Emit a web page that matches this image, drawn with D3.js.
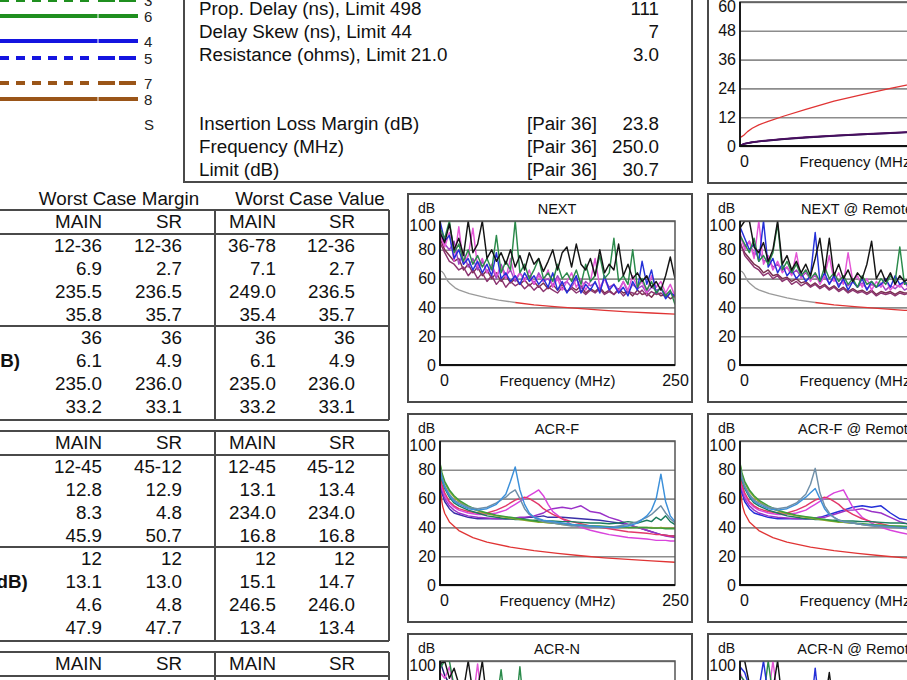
<!DOCTYPE html>
<html><head><meta charset="utf-8">
<script src="https://cdn.jsdelivr.net/npm/d3@7"></script>
<style>
html,body{margin:0;padding:0;background:#fff;overflow:hidden}
svg{display:block}
</style></head><body>
<svg id="c" width="907" height="680"></svg>
<script>
// ---------------- DATA ----------------
const legendLabels = ["3","6","4","5","7","8","S"];
const legendDashed = [true,false,false,true,true,false,false];

const midLabels = ["Prop. Delay (ns), Limit 498","Delay Skew (ns), Limit 44","Resistance (ohms), Limit 21.0"];
const midValues = ["111","7","3.0"];
const ilLabels = ["Insertion Loss Margin (dB)","Frequency (MHz)","Limit (dB)"];
const ilPairs = ["[Pair 36]","[Pair 36]","[Pair 36]"];
const ilValues = ["23.8","250.0","30.7"];

const groupHeads = ["Worst Case Margin","Worst Case Value"];
const colHeads = ["MAIN","SR","MAIN","SR"];
const t1Labels = ["Worst Pair","NEXT (dB)","Freq (MHz)","Limit (dB)","Worst Pair","PS NEXT (dB)","Freq (MHz)","Limit (dB)"];
const t1Rows = [["12-36","12-36","36-78","12-36"],["6.9","2.7","7.1","2.7"],["235.5","236.5","249.0","236.5"],["35.8","35.7","35.4","35.7"],
                ["36","36","36","36"],["6.1","4.9","6.1","4.9"],["235.0","236.0","235.0","236.0"],["33.2","33.1","33.2","33.1"]];
const t2Labels = ["Worst Pair","ACR-F (dB)","Freq (MHz)","Limit (dB)","Worst Pair","PS ACR-F (dB)","Freq (MHz)","Limit (dB)"];
const t2Rows = [["12-45","45-12","12-45","45-12"],["12.8","12.9","13.1","13.4"],["8.3","4.8","234.0","234.0"],["45.9","50.7","16.8","16.8"],
                ["12","12","12","12"],["13.1","13.0","15.1","14.7"],["4.6","4.8","246.5","246.0"],["47.9","47.7","13.4","13.4"]];
const t3Labels = ["Worst Pair"];
const t3Rows = [["45-78","45-78","12-36","12-36"]];

// Insertion loss
const ilLimFreq = [1,4,8,13,20,30,47,70,100,130,160,177,200,225,250];
const ilLimVal  = [3.7,4.5,6,7.4,8.8,10.3,12.5,15.3,18.7,21.4,24,25.4,27.2,29,30.7];
const ilMFreq = [0,4,8,13,20,30,47,70,100,130,160,177,200,225,250];
const ilPairA = [0,0.9,1.25,1.6,2.0,2.4,3.0,3.7,4.4,5.0,5.5,5.85,6.2,6.55,6.9];
const ilPairB = [0,0.85,1.2,1.55,1.9,2.3,2.9,3.55,4.25,4.85,5.35,5.7,6.05,6.4,6.75];
const ilPairC = [0,0.8,1.15,1.5,1.85,2.25,2.85,3.5,4.2,4.8,5.3,5.6,5.95,6.3,6.6];

// NEXT
const nextFreq = [0,5,10,15,20,25,30,35,40,45,50,55,60,65,70,75,80,85,90,95,100,105,110,115,120,125,130,135,140,145,150,155,160,165,170,175,180,185,190,195,200,205,210,215,220,225,230,235,240,245,250];
const nextBlack = [92,85,98,80,88,76,100,78,84,100,74,80,72,78,70,80,68,76,66,78,70,74,65,72,80,66,78,82,68,84,70,66,74,62,80,64,70,66,84,62,70,60,64,58,62,54,58,52,62,75,60];
const nextGreen = [95,88,100,78,84,72,80,70,76,68,74,66,90,64,72,66,100,64,70,60,66,74,60,64,58,70,60,64,58,66,56,70,58,62,76,60,64,88,58,62,56,80,54,60,52,58,50,54,48,52,42];
const nextBlue  = [100,86,90,74,80,70,74,66,72,64,70,62,78,60,64,58,62,56,64,58,62,56,60,54,64,52,58,50,56,62,50,56,52,58,50,62,52,56,50,54,48,58,52,72,56,66,50,54,46,50,48];
const nextPink  = [90,82,92,72,96,70,76,95,68,74,64,70,62,68,60,74,60,64,58,66,56,62,58,66,54,60,52,58,64,54,60,52,58,74,54,60,52,56,50,58,52,62,54,58,50,62,54,58,50,56,48];
const nextPlum  = [85,78,72,70,66,68,62,66,60,64,58,62,56,60,54,58,55,57,53,56,52,55,51,54,52,50,54,51,53,50,52,49,52,50,53,49,51,49,52,48,51,50,49,52,48,51,49,50,47,50,47];
const nextBrown = [88,80,76,72,74,66,70,64,68,62,66,60,64,58,62,57,60,56,59,55,58,54,57,53,56,52,56,51,54,52,55,50,53,51,54,50,52,49,53,50,51,48,52,49,50,47,51,48,49,46,48];
const nextViolet = [94,84,80,86,70,78,68,74,66,72,64,68,60,70,62,66,58,64,60,62,56,64,58,60,55,62,56,58,54,60,53,58,55,57,52,60,54,56,52,58,50,56,53,55,50,54,52,53,49,51,48];
const nextLimFreq = [0,2,4,8,10,16,20,31.25,50,62.5,80,100,125,150,175,200,225,250];
const nextLimVal  = [65,65,63.5,58.5,57,53.6,52.2,49.5,46.6,45.1,43.4,41.8,40.4,39.2,38.0,36.9,36.1,35.3];

// NEXT @ Remote
const remFreq = [0,5,10,15,20,25,30,35,40,45,50,55,60,65,70,75,80,85,90,95,100,105,110,115,120,125,130,135,140,145,150,155,160,165,170,175,180];
const remBlack = [95,100,100,82,78,85,72,80,100,70,76,66,72,64,70,62,74,88,64,88,62,70,60,66,58,64,60,70,86,60,66,58,64,56,62,58,60];
const remGreen = [90,84,78,88,72,76,70,78,98,66,72,64,70,62,66,60,64,58,68,60,64,58,62,56,60,54,62,56,58,54,60,56,62,58,82,56,58];
const remBlue  = [96,88,80,84,72,100,68,74,64,70,62,66,60,64,58,62,92,58,64,56,62,54,60,52,58,54,60,52,58,54,56,60,54,62,56,58,54];
const remPink  = [92,80,86,74,100,70,76,66,72,64,68,62,78,60,66,58,64,56,62,76,58,64,56,78,58,62,54,60,52,58,54,60,52,56,54,58,52];
const remPlum  = [86,76,72,68,66,62,64,60,62,58,60,56,58,55,57,54,56,53,55,52,54,51,53,50,52,50,51,49,51,48,50,49,50,48,50,49,50];
const remBrown = [84,78,74,70,68,64,66,62,63,60,61,58,60,57,58,55,57,54,56,53,55,52,54,51,53,51,52,50,52,49,51,50,51,49,51,50,50];
const remViolet = [90,82,86,76,80,72,74,68,70,66,68,63,66,61,64,60,62,58,61,57,60,56,58,55,58,54,57,53,56,54,57,52,55,53,56,52,54];

// ACR-F
const acrFreq = [0,2,5,10,15,20,30,40,50,60,70,75,80,85,90,95,100,105,110,115,120,130,140,150,160,170,180,190,200,210,220,225,230,235,240,245,250];
const acrLightBlue = [80,74,68,62,58,56,53,52,53,56,63,72,82,66,56,50,47,46,45,44.5,44,43,42,41.5,41,40.5,40,40,41,43,48,52,60,77,58,48,44];
const acrGrayBlue  = [82,75,69,63,59,57,54,53,54,57,61,64,66,60,53,49,47,45,44,43.5,43,42,41,41,40.5,40,40,41,42,44,47,49,52,55,50,46,43];
const acrRed       = [76,70,64,58,55,53,51,50,50,52,55,57,59,60,61,60,58,56,53,51,49,46,44,42.5,41,40,39,38,37,36.5,36,35.5,35,35,34.5,34,34];
const acrMagenta   = [74,68,62,57,54,52,50,49,49,50,52,54,56,58,60,62,64,66,62,56,51,46,42,40,38,36.5,35,34,33,32.5,32,31.5,31,31,31,30.5,30.5];
const acrPurple    = [72,66,60,55,52,50,48,47,46.5,46,46,46,46.5,47,47,47.5,48,49,50,52,53,54,53,55,51,50,47,45,42,40,38,37,36,35,34,33.5,33];
const acrIndigo    = [70,64,58,53,50,49,47,46,46,46,46,46,46,46,46.5,47,47,47.5,48,47,47,47,46.5,46,45.5,45,44,43,42,40,38,37,36,35,34.5,34,34];
const acrGreen     = [85,78,72,66,62,59,55,52,50,48.5,47.5,47,46.5,46,45.5,45,44.5,44,44,43.5,43,42.5,42,41.5,41,41,40.5,40.5,40,40,40,39.5,39.5,39.5,39,39,39];
const acrOlive     = [84,77,71,65,61,58,54,51.5,49.5,48,47,46.5,46,45.5,45,44.5,44,43.5,43.5,43,43,42,41.5,41.5,41,40.5,40.5,40,40,40,40,40,39.5,40,39.5,39.5,39.5];
const acrTeal      = [80,73,67,61,57,55,52,50,48,47,46,46,45.5,45.5,45.5,45,45,45,44.5,44.5,44.5,44,44,43.5,43,43,42.5,43,44,43,45,44,47,45,48,44,42];
const acrLimFreq = [1,2,3,5,10,20,35,50,75,100,125,150,175,200,225,250];
const acrLimVal  = [63.8,57.8,54.3,49.8,43.8,37.8,32.9,29.8,26.3,23.8,21.9,20.3,18.9,17.8,16.8,15.8];

// ACR-F @ Remote
const acrRemFreq = [0,2,5,10,15,20,30,40,50,60,70,75,80,85,90,95,100,105,110,115,120,130,140,150,160,170,180];
const remGrayBlue  = [82,75,69,63,59,57,54,53,54,57,63,70,81,64,55,50,47,45,44,43.5,43,42,41,40.5,40,39.5,39];
const remLightBlue = [80,74,68,62,58,56,53,52,53,56,61,64,67,60,53,49,47,45,44,43.5,43,42,41.5,41,40.5,40,40];
const remRed       = [76,70,64,58,55,53,51,50,50,52,55,57,59,60,61,60,58,56,53,51,49,46,44,42.5,41,40,39];
const remMagenta   = [74,68,62,57,54,52,50,49,49,50,52,54,56,58,60,62,64,65,66,60,54,47,43,40,38,36.5,35];
const remIndigo    = [70,64,58,53,50,49,47,46,46,46,46,46,46.5,47,48,49,50,51,52,53,54,55,54,55,50,46,45];
const remPurple    = [72,66,60,55,52,50,48,47,46.5,46,46,46,46.5,47,47,48,49,50,51,52,52,53,51,50,47,44,42];
const remTeal      = [80,73,67,61,57,55,52,50,48,47,46,46,45.5,45.5,45.5,45,45,45,44.5,44.5,44.5,44,44,43.5,43,43,42.5];
const remGreenF    = [85,78,72,66,62,59,55,52,50,48.5,47.5,47,46.5,46,45.5,45,44.5,44,44,43.5,43,42.5,42,41.5,41,41,40.5];
const remOlive     = [84,77,71,65,61,58,54,51.5,49.5,48,47,46.5,46,45.5,45,44.5,44,43.5,43.5,43,43,42,41.5,41.5,41,40.5,40.5];

// ACR-N (only top visible)
const acrnFreq = [0,5,10,15,20,25,30,35,40,45,50,55,60,65,70,75,80,85,90,95,100];
const acrnBlack = [98,100,88,95,84,80,100,78,80,100,72,76,70,74,68,72,66,74,64,72,66];
const acrnGreen = [95,100,100,82,86,78,80,74,76,70,72,68,70,94,66,68,64,96,62,66,60];
const acrnPink  = [92,88,96,80,84,76,78,72,98,70,68,70,64,68,62,66,60,64,58,62,58];
const acrnNavy  = [100,90,84,78,80,74,76,70,72,68,70,66,68,64,66,62,64,60,62,58,60];
const acrnRemBlack = [100,100,84,80,82,86,78,80,100,72,74,70,72,68,70,66,68,64,70,92,66];
const acrnRemBlue  = [96,92,82,78,80,100,76,78,72,70,72,68,70,66,68,64,95,64,66,62,64];
const acrnRemGreen = [90,86,80,76,78,74,100,76,80,70,72,68,70,66,68,64,66,62,64,60,62];
const acrnRemPink  = [92,84,78,74,76,72,74,100,76,68,70,66,68,64,66,62,64,60,62,58,60];

// ---------------- STYLES ----------------
const FONT = '"Liberation Sans", Arial, Helvetica, sans-serif';
const legendColors = ["#1f8f1f","#1f8f1f","#1414e0","#1414e0","#9a5518","#9a5518",null];
const C = {black:"#141414", green:"#2a8a4a", blue:"#2430d8", pink:"#e455d6", plum:"#8c3470",
  brown:"#7a3050", violet:"#a044c4",
  lightBlue:"#3c90da", grayBlue:"#6f8fa8", red:"#e2386a", magenta:"#d944dc", purple:"#9a32c8",
  indigo:"#3a30a8", green2:"#3c9c3c", olive:"#9aac2a", teal:"#1c7c5e", limit:"#e03434", limGray:"#9a9a9a",
  il1:"#4b1060", il2:"#6a1f80", il3:"#2a1050", navy:"#1a1a70"};

const svg = d3.select("#c").attr("font-family", FONT);
const BODY = 18.8;

// ---------------- LEGEND ----------------
const legendY = [0,16,41,58,83,99,124];
const lineGen = d3.line();
legendLabels.forEach((lab,i) => {
  const yy = legendY[i];
  if (legendColors[i]) {
    if (legendDashed[i]) {
      svg.append("path").attr("d", lineGen([[0,yy],[96,yy]])).attr("stroke",legendColors[i]).attr("stroke-width",4).attr("stroke-dasharray","9,7");
      svg.append("path").attr("d", lineGen([[98,yy],[138,yy]])).attr("stroke",legendColors[i]).attr("stroke-width",4).attr("stroke-dasharray","17,4");
    } else {
      svg.append("path").attr("d", lineGen([[0,yy],[97.5,yy]])).attr("stroke",legendColors[i]).attr("stroke-width",4);
      svg.append("path").attr("d", lineGen([[98.5,yy],[138,yy]])).attr("stroke",legendColors[i]).attr("stroke-width",4);
    }
  }
  svg.append("text").attr("x",144).attr("y",yy+5.5).attr("font-size",15).attr("fill","#222").text(lab);
});

// ---------------- MIDDLE BOX ----------------
svg.append("rect").attr("x",184).attr("y",-10).attr("width",508).attr("height",192)
  .attr("fill","none").attr("stroke","#4a4a4a").attr("stroke-width",2);
const midY = [15,38,61], ilY = [130,153,176];
midLabels.forEach((t,i)=>{
  svg.append("text").attr("x",199).attr("y",midY[i]).attr("font-size",BODY).attr("fill","#111").text(t);
  svg.append("text").attr("x",659).attr("y",midY[i]).attr("font-size",BODY).attr("fill","#111").attr("text-anchor","end").text(midValues[i]);
});
ilLabels.forEach((t,i)=>{
  svg.append("text").attr("x",199).attr("y",ilY[i]).attr("font-size",BODY).attr("fill","#111").text(t);
  svg.append("text").attr("x",527).attr("y",ilY[i]).attr("font-size",BODY).attr("fill","#111").text(ilPairs[i]);
  svg.append("text").attr("x",659).attr("y",ilY[i]).attr("font-size",BODY).attr("fill","#111").attr("text-anchor","end").text(ilValues[i]);
});

// ---------------- TABLES ----------------
const colX = [102,182,276,355];
function hline(x1,x2,y){ svg.append("path").attr("d",lineGen([[x1,y],[x2,y]])).attr("stroke","#4a4a4a").attr("stroke-width",2); }
function vline(x,y1,y2){ svg.append("path").attr("d",lineGen([[x,y1],[x,y2]])).attr("stroke","#4a4a4a").attr("stroke-width",2); }
function table(top, rows, labels, heads, full){
  if (heads) {
    svg.append("text").attr("x",119).attr("y",top-5).attr("font-size",BODY).attr("text-anchor","middle").attr("fill","#111").text(heads[0]);
    svg.append("text").attr("x",310).attr("y",top-5).attr("font-size",BODY).attr("text-anchor","middle").attr("fill","#111").text(heads[1]);
  }
  const bottom = full ? top+210 : 700;
  hline(0,389,top); hline(0,389,top+24);
  if (full) { hline(0,389,top+116); hline(0,389,bottom); }
  vline(215,top,bottom); vline(389,top,bottom);
  colHeads.forEach((h,j)=>svg.append("text").attr("x",colX[j]).attr("y",top+18).attr("font-size",BODY).attr("text-anchor","end").attr("fill","#111").text(h));
  rows.forEach((r,i)=>{
    const by = top+42+23*i;
    svg.append("text").attr("x",-103).attr("y",by).attr("font-size",BODY).attr("font-weight","bold").attr("fill","#111").text(labels[i]);
    r.forEach((v,j)=>svg.append("text").attr("x",colX[j]).attr("y",by).attr("font-size",BODY).attr("text-anchor","end").attr("fill","#111").text(v));
  });
}
table(210, t1Rows, t1Labels, groupHeads, true);
table(431, t2Rows, t2Labels, null, true);
table(652, t3Rows, t3Labels, null, false);

// ---------------- CHARTS ----------------
const PW = 235, PH = 144;
let clipN = 0;
function chart(o){
  const g = svg.append("g");
  const px = o.bx + 32, py = o.by + 27;
  const x = d3.scaleLinear().domain([0,250]).range([px, px+PW]);
  const y = d3.scaleLinear().domain([0,o.ymax]).range([py+PH, py]);
  g.append("rect").attr("x",o.bx).attr("y",o.by).attr("width",284).attr("height",208)
    .attr("fill","none").attr("stroke","#4a4a4a").attr("stroke-width",2);
  g.append("text").attr("x",o.bx+10).attr("y",o.by+19).attr("font-size",14).attr("fill","#111").text("dB");
  g.append("text").attr("x",o.bx+149).attr("y",o.by+20).attr("font-size",14.5).attr("text-anchor","middle").attr("fill","#111").text(o.title);
  const ya = g.append("g").attr("transform",`translate(${px},0)`)
    .call(d3.axisLeft(y).tickValues(o.ticks).tickSize(-PW).tickPadding(4).tickFormat(d3.format("d")));
  ya.select(".domain").remove();
  ya.selectAll(".tick line").attr("stroke","#8c8c8c").attr("stroke-width",1.6);
  ya.selectAll(".tick text").attr("font-size",16).attr("fill","#111").attr("font-family",FONT)
    .attr("dy", d => d === o.ymax ? "0.62em" : "0.32em");
  const id = "clip"+(clipN++);
  g.append("clipPath").attr("id",id).append("rect").attr("x",px).attr("y",py).attr("width",PW).attr("height",PH);
  const lg = g.append("g").attr("clip-path",`url(#${id})`);
  const line = d3.line().x(d=>x(d[0])).y(d=>y(d[1]));
  o.lines.forEach(L=>{
    let pts = d3.zip(L.f, L.v);
    if (L.upTo !== undefined) pts = pts.filter(p=>p[0] <= L.upTo);
    if (L.from !== undefined) pts = pts.filter(p=>p[0] >= L.from);
    lg.append("path").datum(pts).attr("d",line).attr("fill","none").attr("stroke",L.c)
      .attr("stroke-width",L.w||1.45).attr("stroke-linejoin","round");
  });
  g.append("rect").attr("x",px).attr("y",py).attr("width",PW).attr("height",PH)
    .attr("fill","none").attr("stroke","#555").attr("stroke-width",1.5);
  g.append("path").attr("d",`M${px},${py}V${py+PH}H${px+PW}`).attr("stroke","#111").attr("stroke-width",1.8).attr("fill","none");
  const xa = g.append("g").attr("transform",`translate(0,${py+PH})`)
    .call(d3.axisBottom(x).tickValues([0,250]).tickSize(0).tickPadding(10).tickFormat(d3.format("d")));
  xa.select(".domain").remove();
  xa.selectAll(".tick text").attr("font-size",16).attr("fill","#111").attr("font-family",FONT)
    .attr("dx",(d)=> d===0 ? 4 : 0);
  g.append("text").attr("x",px+PW/2).attr("y",py+PH+21).attr("font-size",15).attr("text-anchor","middle").attr("fill","#111").text("Frequency (MHz)");
}

const t20 = [0,20,40,60,80,100];
// Insertion loss (top right)
chart({bx:708, by:-25, title:"Insertion Loss", ymax:60, ticks:[0,12,24,36,48,60], lines:[
  {f:ilLimFreq, v:ilLimVal, c:C.limit, w:1.3},
  {f:ilMFreq, v:ilPairB, c:C.il2, w:1.6},
  {f:ilMFreq, v:ilPairC, c:C.il3, w:1.6},
  {f:ilMFreq, v:ilPairA, c:C.il1, w:1.6}
]});

// NEXT
chart({bx:408, by:194, title:"NEXT", ymax:100, ticks:t20, lines:[
  {f:nextLimFreq, v:nextLimVal, c:C.limGray, upTo:80, w:1.3},
  {f:nextLimFreq, v:nextLimVal, c:C.limit, from:80, w:1.3},
  {f:nextFreq, v:nextBrown, c:C.brown},
  {f:nextFreq, v:nextPlum, c:C.plum},
  {f:nextFreq, v:nextViolet, c:C.violet},
  {f:nextFreq, v:nextPink, c:C.pink},
  {f:nextFreq, v:nextBlue, c:C.blue},
  {f:nextFreq, v:nextGreen, c:C.green},
  {f:nextFreq, v:nextBlack, c:C.black}
]});
chart({bx:708, by:194, title:"NEXT @ Remote", ymax:100, ticks:t20, lines:[
  {f:nextLimFreq, v:nextLimVal, c:C.limGray, upTo:80, w:1.3},
  {f:nextLimFreq, v:nextLimVal, c:C.limit, from:80, w:1.3},
  {f:remFreq, v:remBrown, c:C.brown},
  {f:remFreq, v:remPlum, c:C.plum},
  {f:remFreq, v:remViolet, c:C.violet},
  {f:remFreq, v:remPink, c:C.pink},
  {f:remFreq, v:remBlue, c:C.blue},
  {f:remFreq, v:remGreen, c:C.green},
  {f:remFreq, v:remBlack, c:C.black}
]});

// ACR-F
chart({bx:408, by:414, title:"ACR-F", ymax:100, ticks:t20, lines:[
  {f:acrLimFreq, v:acrLimVal, c:C.limit, w:1.3},
  {f:acrFreq, v:acrIndigo, c:C.indigo},
  {f:acrFreq, v:acrPurple, c:C.purple},
  {f:acrFreq, v:acrMagenta, c:C.magenta},
  {f:acrFreq, v:acrRed, c:C.red},
  {f:acrFreq, v:acrTeal, c:C.teal},
  {f:acrFreq, v:acrOlive, c:C.olive},
  {f:acrFreq, v:acrGreen, c:C.green2},
  {f:acrFreq, v:acrGrayBlue, c:C.grayBlue},
  {f:acrFreq, v:acrLightBlue, c:C.lightBlue}
]});
chart({bx:708, by:414, title:"ACR-F @ Remote", ymax:100, ticks:t20, lines:[
  {f:acrLimFreq, v:acrLimVal, c:C.limit, w:1.3},
  {f:acrRemFreq, v:remIndigo, c:C.blue},
  {f:acrRemFreq, v:remPurple, c:C.purple},
  {f:acrRemFreq, v:remMagenta, c:C.magenta},
  {f:acrRemFreq, v:remRed, c:C.red},
  {f:acrRemFreq, v:remTeal, c:C.teal},
  {f:acrRemFreq, v:remOlive, c:C.olive},
  {f:acrRemFreq, v:remGreenF, c:C.green2},
  {f:acrRemFreq, v:remLightBlue, c:C.lightBlue},
  {f:acrRemFreq, v:remGrayBlue, c:C.grayBlue}
]});

// ACR-N
chart({bx:408, by:634, title:"ACR-N", ymax:100, ticks:t20, lines:[
  {f:acrnFreq, v:acrnNavy, c:C.navy},
  {f:acrnFreq, v:acrnPink, c:C.pink},
  {f:acrnFreq, v:acrnGreen, c:C.green},
  {f:acrnFreq, v:acrnBlack, c:C.black}
]});
chart({bx:708, by:634, title:"ACR-N @ Remote", ymax:100, ticks:t20, lines:[
  {f:acrnFreq, v:acrnRemPink, c:C.pink},
  {f:acrnFreq, v:acrnRemGreen, c:C.green},
  {f:acrnFreq, v:acrnRemBlue, c:C.blue},
  {f:acrnFreq, v:acrnRemBlack, c:C.black}
]});
</script></body></html>
